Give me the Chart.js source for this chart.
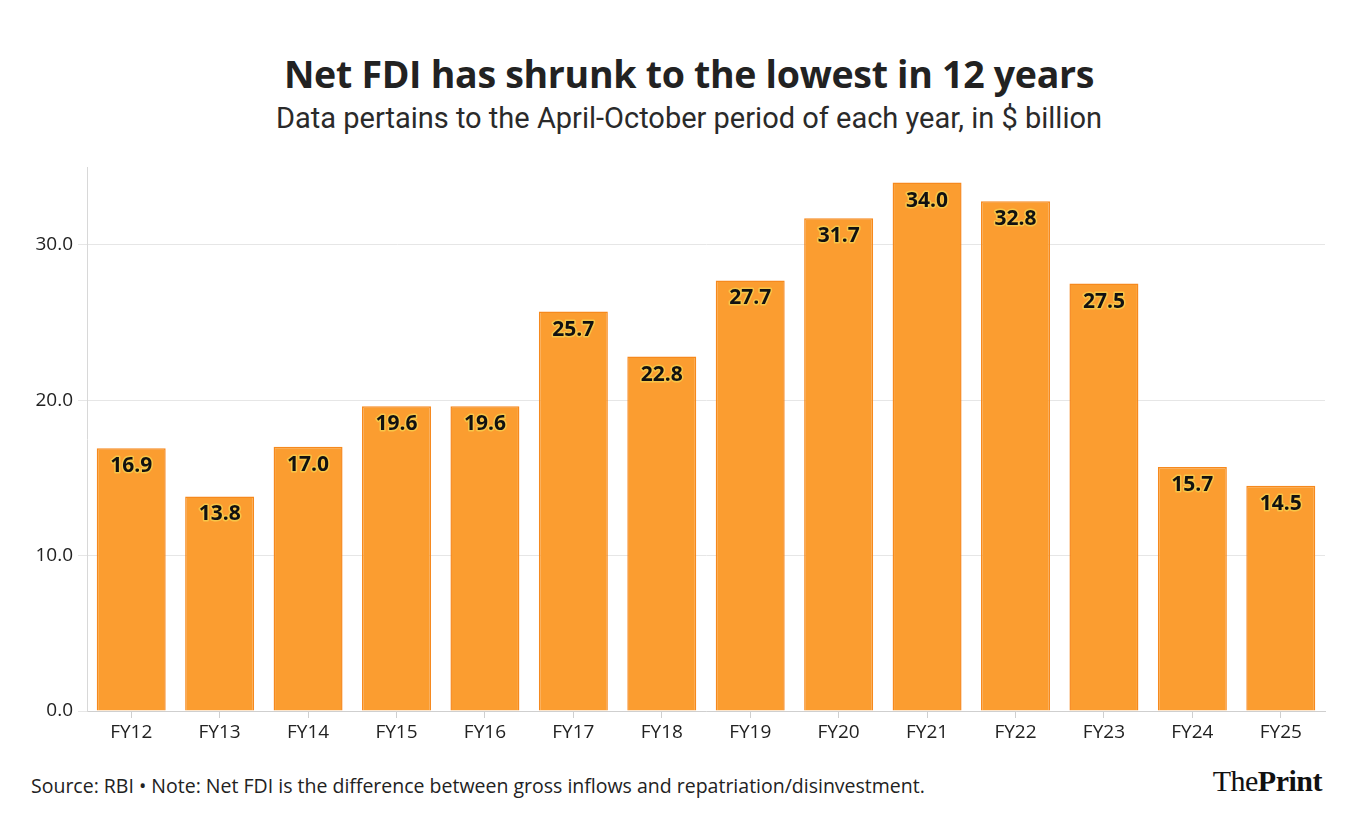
<!DOCTYPE html>
<html>
<head>
<meta charset="utf-8">
<script src="https://cdn.jsdelivr.net/npm/chart.js@4.4.1/dist/chart.umd.min.js"></script>
<style>
  html,body{margin:0;padding:0;background:#fff;width:1361px;height:820px;overflow:hidden;font-family:"Open Sans",Roboto,sans-serif;}
  #title{position:absolute;left:0;width:1378px;top:48px;text-align:center;font:700 37.5px "Open Sans",Roboto,sans-serif;color:#222;letter-spacing:-0.3px;}
  #subtitle{position:absolute;left:0;width:1378px;top:101px;text-align:center;font:400 29px Roboto,"Open Sans",sans-serif;color:#2a2a2a;}
  #wrap{position:absolute;left:0;top:150px;width:1361px;height:600px;}
  #footer{position:absolute;left:31px;top:772px;font:400 19.5px "Open Sans",Roboto,sans-serif;color:#222;}
  #logo{position:absolute;right:39px;top:764px;font:400 30px "Liberation Serif","DejaVu Serif",serif;color:#111;letter-spacing:-0.5px;}
  #logo b{font-weight:700;}
</style>
</head>
<body>
<div id="title">Net FDI has shrunk to the lowest in 12 years</div>
<div id="subtitle">Data pertains to the April-October period of each year, in $ billion</div>
<div id="wrap"><canvas id="c"></canvas></div>
<div id="footer">Source: RBI • Note: Net FDI is the difference between gross inflows and repatriation/disinvestment.</div>
<div id="logo">The<b>Print</b></div>
<script>
const categories = ["FY12","FY13","FY14","FY15","FY16","FY17","FY18","FY19","FY20","FY21","FY22","FY23","FY24","FY25"];
const netFDI = [16.9,13.8,17.0,19.6,19.6,25.7,22.8,27.7,31.7,34.0,32.8,27.5,15.7,14.5];
const yTicks = [0,10,20,30];

const valueLabels = {
  id:'valueLabels',
  afterDatasetsDraw(chart){
    const ctx = chart.ctx;
    const meta = chart.getDatasetMeta(0);
    ctx.save();
    ctx.font = '700 21px "Open Sans",Roboto,sans-serif';
    ctx.textAlign = 'center';
    ctx.textBaseline = 'middle';
    meta.data.forEach((bar,i)=>{
      const t = netFDI[i].toFixed(1);
      const y = bar.y + 18;
      ctx.lineWidth = 3;
      ctx.strokeStyle = '#f7c548';
      ctx.lineJoin = 'round';
      ctx.strokeText(t, bar.x, y);
      ctx.fillStyle = '#111';
      ctx.fillText(t, bar.x, y);
    });
    ctx.restore();
  }
};

new Chart(document.getElementById('c'), {
  type:'bar',
  data:{labels:categories, datasets:[{data:netFDI, backgroundColor:'#fb9d30', borderColor:'#f6891d', borderWidth:1.5, barPercentage:0.78, categoryPercentage:1}]},
  options:{
    responsive:true, maintainAspectRatio:false, animation:false,
    layout:{padding:{left:0,right:36,top:17,bottom:0}},
    plugins:{legend:{display:false}, tooltip:{enabled:false}},
    scales:{
      x:{
        grid:{display:true, offset:false, drawOnChartArea:false, tickLength:7, color:'#cfcfcf'},
        border:{color:'#cfcfcf'},
        ticks:{color:'#222', font:{size:19, family:'"Open Sans",Roboto,sans-serif'}, padding:3},
        afterFit(s){ s.height = 39; }
      },
      y:{
        min:0, max:35,
        grid:{color:'#e6e6e6', tickLength:9},
        border:{color:'#d8d8d8'},
        ticks:{stepSize:10, color:'#222', font:{size:19, family:'"Open Sans",Roboto,sans-serif'}, padding:5, callback:v=>v.toFixed(1)},
        afterBuildTicks(s){ s.ticks = yTicks.map(v=>({value:v})); },
        afterFit(s){ s.width = 87; }
      }
    }
  },
  plugins:[valueLabels]
});
</script>
</body>
</html>
